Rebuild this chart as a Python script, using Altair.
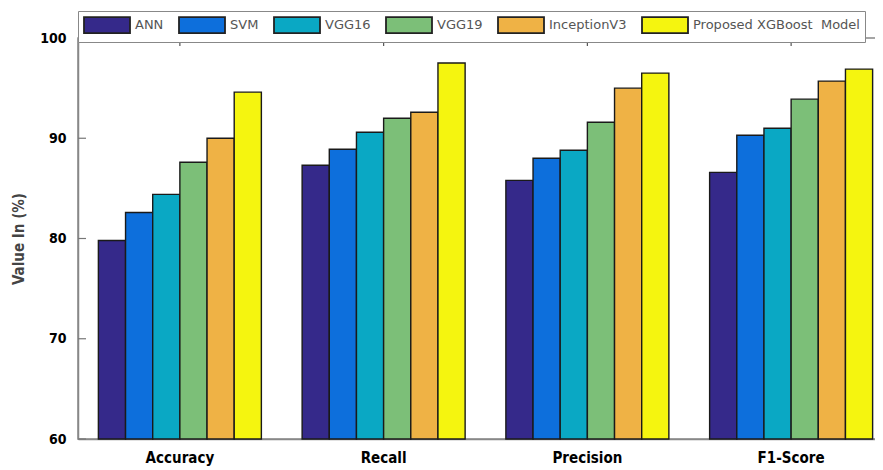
import altair as alt
import pandas as pd

metrics = ["Accuracy", "Recall", "Precision", "F1-Score"]
models = ["ANN", "SVM", "VGG16", "VGG19", "InceptionV3", "Proposed XGBoost\u00a0\u00a0Model"]
ann = [79.8, 87.3, 85.8, 86.6]
svm = [82.6, 88.9, 88.0, 90.3]
vgg16 = [84.4, 90.6, 88.8, 91.0]
vgg19 = [87.6, 92.0, 91.6, 93.9]
inception = [90.0, 92.6, 95.0, 95.7]
xgb = [94.6, 97.5, 96.5, 96.9]
colors = ["#35298a", "#0d6fdc", "#0aa8c4", "#7cbf78", "#efb245", "#f5f50f"]
y_ticks = [60, 70, 80, 90, 100]

series = [ann, svm, vgg16, vgg19, inception, xgb]
rows = []
for m, vals in zip(models, series):
    for met, v in zip(metrics, vals):
        rows.append({"metric": met, "model": m, "value": v})
df = pd.DataFrame(rows)
tick_df = pd.DataFrame({"value": y_ticks})
met_df = pd.DataFrame({"metric": metrics})

FONT = "Liberation Sans Narrow, DejaVu Sans Condensed, Arial Narrow, sans-serif"

x_scale = alt.Scale(domain=metrics, paddingInner=0.2, paddingOuter=0.1)
y_scale = alt.Scale(domain=[60, 100], nice=False, zero=False)

x_axis = alt.Axis(labelAngle=0, tickSize=0, labelPadding=11, title=None,
                  labelFont=FONT, labelFontSize=15, labelFontWeight="bold",
                  labelColor="#000", domainColor="#888", domainWidth=1.5)
y_axis = alt.Axis(values=y_ticks, tickSize=0, labelPadding=12, grid=False,
                  title="Value In (%)",
                  labelFont=FONT, labelFontSize=14, labelFontWeight="bold",
                  labelColor="#000", domainColor="#888", domainWidth=1.5,
                  titleFont=FONT, titleFontSize=15, titleFontWeight="bold",
                  titleColor="#444", titlePadding=13)

bars = alt.Chart(df).mark_bar(stroke="#1a1a1a", strokeWidth=1.4).encode(
    x=alt.X("metric:N", scale=x_scale, sort=metrics, axis=x_axis),
    xOffset=alt.XOffset("model:N", sort=models,
                        scale=alt.Scale(domain=models, paddingInner=0, paddingOuter=0)),
    y=alt.Y("value:Q", scale=y_scale, axis=y_axis),
    y2=alt.datum(60),
    fill=alt.Fill("model:N", sort=models,
                  scale=alt.Scale(domain=models, range=colors),
                  legend=alt.Legend(title=None, orient="none", legendX=0, legendY=-27,
                                    direction="horizontal", columns=6,
                                    symbolType="M-1,-1H4.75V1H-1Z",
                                    symbolSize=256, symbolStrokeColor="#222",
                                    symbolStrokeWidth=1.8, labelOffset=34,
                                    labelFont="DejaVu Sans, sans-serif",
                                    labelFontSize=13, labelColor="#555",
                                    labelLimit=400,
                                    columnPadding=11, padding=5,
                                    strokeColor="#888", fillColor="white")),
)

yticks = alt.Chart(tick_df).mark_rule(color="#777", strokeWidth=1.2).encode(
    y=alt.Y("value:Q", scale=y_scale, axis=y_axis),
    x=alt.value(0), x2=alt.value(8),
)

xticks = alt.Chart(met_df).mark_rule(color="#555", strokeWidth=1.2).encode(
    x=alt.X("metric:N", scale=x_scale, sort=metrics, axis=x_axis),
    y=alt.value(0), y2=alt.value(8),
)

chart = alt.layer(bars, yticks, xticks).properties(
    width=815, height=401,
    autosize=alt.AutoSizeParams(type="none"),
    padding={"left": 70, "top": 30, "right": -18, "bottom": 31},
).configure_view(stroke="#888", strokeWidth=1.5)

chart.save("out.html", embed_options={"renderer": "svg", "actions": False})
